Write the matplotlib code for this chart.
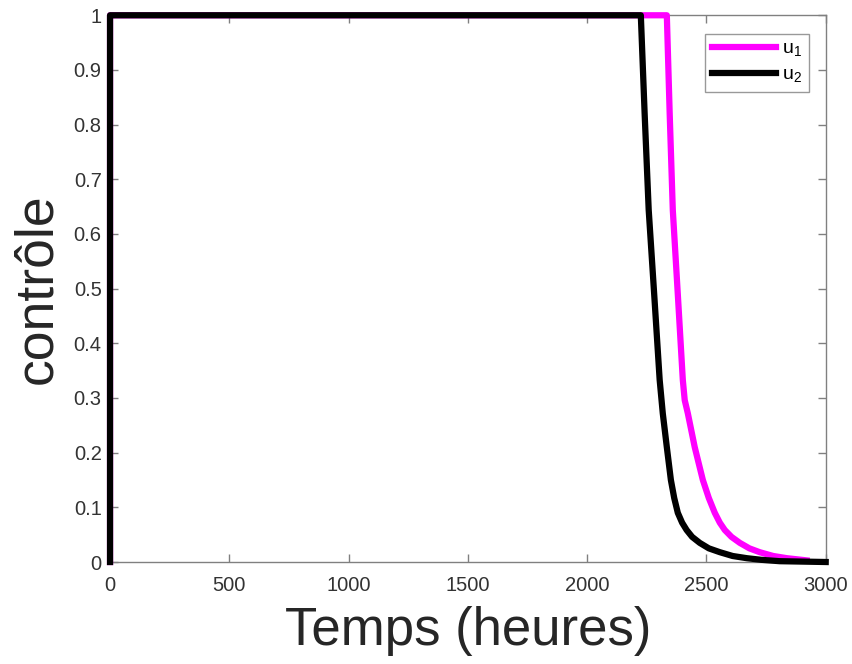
import matplotlib
matplotlib.use("Agg")
import matplotlib.pyplot as plt
import numpy as np

# control profiles u1 / u2 over time (hours)
t_u1 = [0, 0, 2334, 2346, 2359, 2380, 2401, 2409, 2422, 2451, 2485, 2510, 2535, 2556, 2577,
        2605, 2640, 2680, 2723, 2780, 2837, 2920]
u1 = [0, 1, 1, 0.82, 0.644, 0.49, 0.333, 0.296, 0.272, 0.21, 0.15, 0.117, 0.09, 0.072, 0.0585,
      0.046, 0.035, 0.025, 0.018, 0.011, 0.007, 0.003]

t_u2 = [0, 0, 2225, 2241, 2258, 2281, 2304, 2317, 2334, 2351, 2365, 2380, 2398, 2417, 2440,
        2472, 2510, 2556, 2610, 2669, 2730, 2807, 3000]
u2 = [0, 1, 1, 0.82, 0.644, 0.49, 0.333, 0.272, 0.21, 0.15, 0.117, 0.09, 0.072, 0.0585, 0.046,
      0.035, 0.025, 0.018, 0.011, 0.007, 0.004, 0.0015, 0]

xticks = [0, 500, 1000, 1500, 2000, 2500, 3000]
yticks = [0, 0.1, 0.2, 0.3, 0.4, 0.5, 0.6, 0.7, 0.8, 0.9, 1]

plt.rcParams['font.family'] = ['Liberation Sans', 'DejaVu Sans']

fig = plt.figure(figsize=(8.53, 6.64), dpi=100)
ax = fig.add_axes([0.129, 0.1536, 0.839, 0.8234])

ax.plot(t_u1, u1, color='#ff00ff', lw=4.5, label=r'u$_\mathregular{1}$',
        clip_on=False, zorder=3)
ax.plot(t_u2, u2, color='black', lw=4.5, label=r'u$_\mathregular{2}$',
        clip_on=False, zorder=3)

ax.set_xlim(0, 3000)
ax.set_ylim(0, 1)
ax.set_xticks(xticks)
ax.set_xticklabels([str(x) for x in xticks])
ax.set_yticks(yticks)
ax.set_yticklabels(['%g' % y for y in yticks])

for s in ax.spines.values():
    s.set_color('#808080')
    s.set_linewidth(1.0)
ax.tick_params(direction='in', length=6, width=1, color='#808080', labelcolor='#333333',
               labelsize=14.5, top=True, right=True)
ax.tick_params(axis='x', pad=10)
ax.tick_params(axis='y', pad=6)

ax.set_xlabel('Temps (heures)', fontsize=38, color='#262626', labelpad=8)
ax.set_ylabel('contrôle', fontsize=38.5, color='#262626', labelpad=8)

leg = ax.legend(loc='upper right', fontsize=14, handlelength=3.3, frameon=True, fancybox=False,
                borderpad=0.35, labelspacing=0.35, handletextpad=0.3,
                bbox_to_anchor=(0.9765, 0.9665), borderaxespad=0)
leg.get_frame().set_edgecolor('#808080')
leg.get_frame().set_linewidth(1.0)
leg.set_zorder(4)

plt.savefig('out.png', dpi=100)
plt.close()
